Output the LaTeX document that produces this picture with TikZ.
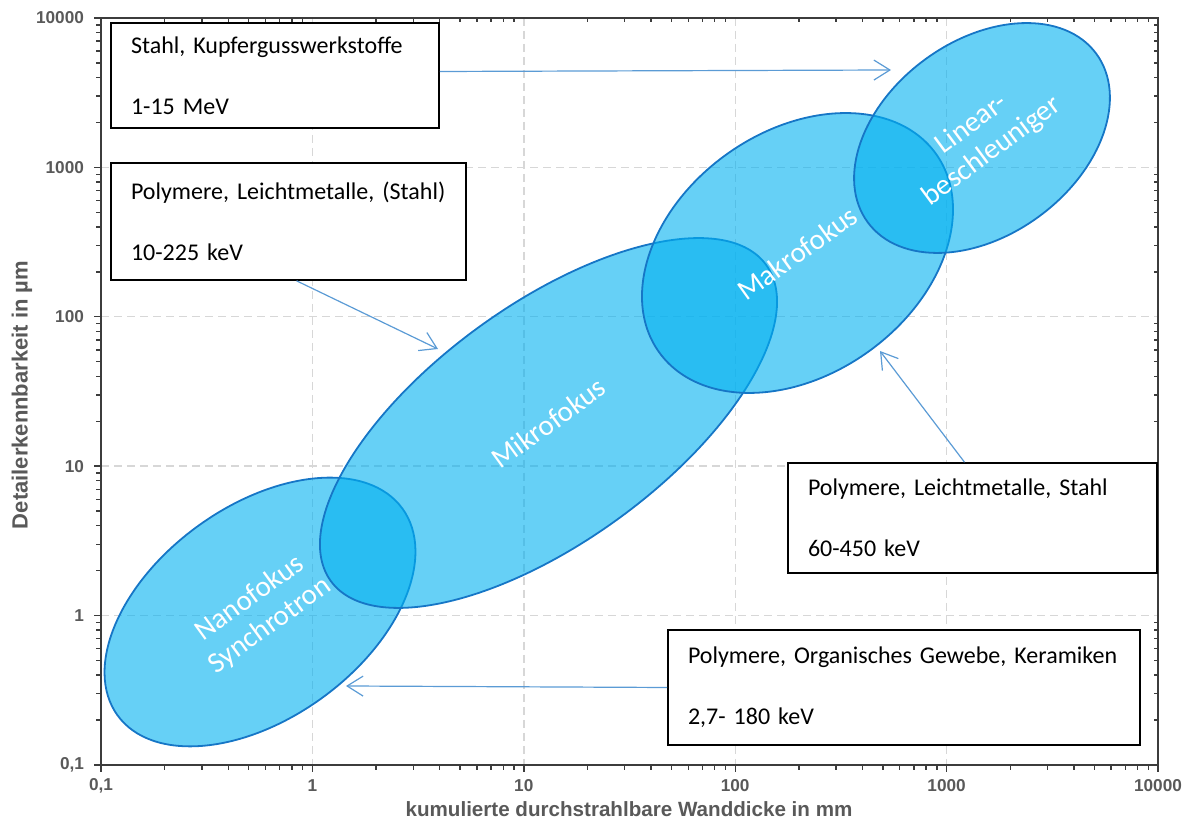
\documentclass[tikz,border=0pt]{standalone}
\usepackage{fontspec}
\setmainfont{Carlito}
\newfontfamily\assifont{Liberation Sans}
\usetikzlibrary{arrows.meta,shapes.geometric}
\definecolor{zonafill}{RGB}{0,176,240}
\definecolor{zonabordo}{RGB}{22,118,198}
\definecolor{blufreccia}{RGB}{91,155,213}
\definecolor{griglia}{RGB}{215,215,215}
\definecolor{testoassi}{RGB}{89,89,89}
\definecolor{assi}{RGB}{60,60,60}

\begin{document}
\begin{tikzpicture}[x=0.5pt, y=-0.5pt,
    zona/.style={ellipse, draw=zonabordo, line width=0.9pt, fill=zonafill,
      fill opacity=0.6, text opacity=1, text=white, align=center,
      font=\fontsize{14.5}{17}\selectfont},
    riquadro/.style={draw=black, line width=0.8pt, fill=white, inner xsep=10pt,
      align=left, font=\fontsize{12}{14.5}\selectfont},
    pfreccia/.style={draw=blufreccia, line width=0.6pt,
      -{Straight Barb[length=8pt, width=10pt]}},
    tacca/.style={draw=assi, line width=0.7pt},
    numero/.style={text=testoassi, font=\assifont\bfseries\fontsize{8.6}{10}\selectfont}]
    \useasboundingbox (0,0) rectangle (1191,822);

    % Griglia tratteggiata sulle decadi
    \foreach \d in {1,...,4} {
        \draw[griglia, line width=0.7pt, dash pattern=on 4pt off 2.5pt]
            ({101+211.4*\d},18) -- ({101+211.4*\d},765);
        \draw[griglia, line width=0.7pt, dash pattern=on 4pt off 2.5pt]
            (101,{765-149.4*\d}) -- (1158,{765-149.4*\d});
    }

    % Zone delle sorgenti (ellissi semitrasparenti)
    \node[zona, rotate=36, minimum width=176pt, minimum height=106pt] (nano) at (260,612) {Nanofokus\\Synchrotron};
    \node[zona, rotate=36, minimum width=269pt, minimum height=118.5pt] (mikro) at (548.5,423) {Mikrofokus};
    \node[zona, rotate=35.6, minimum width=170.3pt, minimum height=121.5pt] (makro) at (797.5,253) {Makrofokus};
    \node[zona, rotate=36.5, minimum width=142pt, minimum height=97pt] (linear) at (982,138) {Linear-\\beschleuniger};

    % Cornice del grafico e tacche logaritmiche
    \draw[assi, line width=0.9pt] (101,18) rectangle (1158,765);
    \foreach \d in {0,...,4} {
        \foreach \k in {2,...,9} {
            \pgfmathsetmacro\xt{101+211.4*(\d+ln(\k)/ln(10))}
            \pgfmathsetmacro\yt{765-149.4*(\d+ln(\k)/ln(10))}
            \draw[tacca] (\xt,765) -- (\xt,770);
            \draw[tacca] (\xt,18) -- (\xt,22);
            \draw[tacca] (101,\yt) -- (96,\yt);
            \draw[tacca] (1158,\yt) -- (1154,\yt);
        }
    }
    \foreach \d/\t in {0/{0,1}, 1/1, 2/10, 3/100, 4/1000, 5/10000} {
        \draw[tacca] ({101+211.4*\d},765) -- ({101+211.4*\d},772);
        \draw[tacca] (101,{765-149.4*\d}) -- (94,{765-149.4*\d});
        \node[numero] (nx\d) at ({101+211.4*\d},786) {\t};
        \node[numero, anchor=east] (ny\d) at (91,{765-149.4*\d}) {\t};
    }

    % Titoli degli assi
    \node[text=testoassi, font=\assifont\bfseries\fontsize{10.3}{12}\selectfont] (titx) at (629,809) {kumulierte durchstrahlbare Wanddicke in mm};
    \node[text=testoassi, font=\assifont\bfseries\fontsize{11}{13}\selectfont, rotate=90] (tity) at (22,395) {Detailerkennbarkeit in µm};

    % Riquadri con materiali ed energie
    \node[riquadro, minimum width=164pt, minimum height=52.5pt, text width=144pt] (box1) at (275,75.5) {Stahl, Kupfergusswerkstoffe\\[16pt]1-15 MeV};
    \node[riquadro, minimum width=177.5pt, minimum height=58.5pt, text width=157.5pt] (box2) at (288.5,221.5) {Polymere, Leichtmetalle, (Stahl)\\[16pt]10-225 keV};
    \node[riquadro, minimum width=184.5pt, minimum height=55pt, text width=164.5pt] (box3) at (972.5,518) {Polymere, Leichtmetalle, Stahl\\[16pt]60-450 keV};
    \node[riquadro, minimum width=236pt, minimum height=57.5pt, text width=216pt] (box4) at (904,687.5) {Polymere, Organisches Gewebe, Keramiken\\[16pt]2,7- 180 keV};

    % Punte delle frecce vicino alle ellissi
    \coordinate (pLin) at (891,70);
    \coordinate (pMik) at (438,349);
    \coordinate (pMak) at (880,351);
    \coordinate (pNano) at (346,686);
    \draw[pfreccia] ([yshift=2pt]box1.east) -- (pLin);
    \draw[pfreccia] ([xshift=4pt]box2.south) -- (pMik);
    \draw[pfreccia] ([xshift=-4pt]box3.north) -- (pMak);
    \draw[pfreccia] (box4.west) -- (pNano);
\end{tikzpicture}
\end{document}
